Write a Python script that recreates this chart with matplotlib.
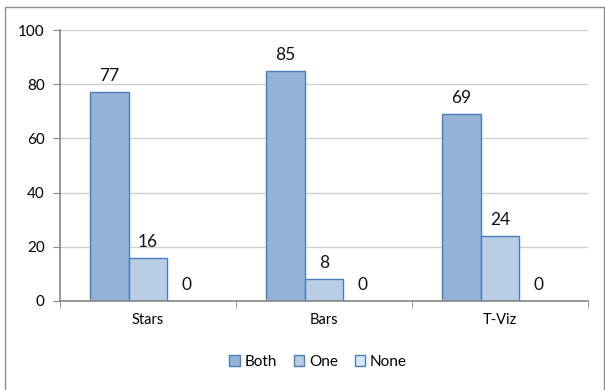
import matplotlib
matplotlib.use("Agg")
import matplotlib.pyplot as plt
import numpy as np
from matplotlib.patches import Rectangle

categories = ["Stars", "Bars", "T-Viz"]
series_names = ["Both", "One", "None"]
both = [77, 85, 69]
one = [16, 8, 24]
none = [0, 0, 0]
yticks = [0, 20, 40, 60, 80, 100]

plt.rcParams["font.family"] = ["Lato", "DejaVu Sans"]

fig = plt.figure(figsize=(6.05, 3.9), dpi=100)
ax = fig.add_axes([60 / 605, 1 - 301 / 390, 528 / 605, 271 / 390])

# outer chart frame
fig.patches.append(Rectangle((5 / 605, -0.01), 599 / 605, 1.01 - 7 / 390,
                             transform=fig.transFigure, fill=False,
                             edgecolor="#8c8c8c", linewidth=1.0))

x = np.arange(len(categories))
w = 0.22
faces = ["#95b3d7", "#b9cde5", "#dce6f2"]
edge = "#4a7ebb"
for i, (vals, name) in enumerate(zip([both, one, none], series_names)):
    pos = x + (i - 1) * w
    ax.bar(pos, vals, width=w, color=faces[i], edgecolor=edge, linewidth=1.0,
           label=name, zorder=2)
    for px, v in zip(pos, vals):
        ax.text(px, v + 3, str(v), ha="center", va="bottom", fontsize=12.5,
                color="#111111")

ax.set_xlim(-0.5, 2.5)
ax.set_ylim(0, 100)
ax.set_yticks(yticks)
ax.tick_params(axis="y", labelsize=11, length=5, color="#868686", pad=6)
ax.grid(axis="y", color="#d0d0d0", linewidth=1.0, zorder=0)
ax.set_axisbelow(True)

ax.set_xticks(x)
ax.set_xticklabels(categories, fontsize=10.5)
ax.tick_params(axis="x", length=0, pad=9)
ax.set_xticks([-0.5, 0.5, 1.5, 2.5], minor=True)
ax.tick_params(axis="x", which="minor", length=5, color="#868686")

for s in ["top", "right"]:
    ax.spines[s].set_visible(False)
for s in ["left", "bottom"]:
    ax.spines[s].set_color("#868686")
    ax.spines[s].set_zorder(5)
    ax.spines[s].set_linewidth(1.2)

fig.legend(loc="center", bbox_to_anchor=(318 / 605, 1 - 362 / 390), ncol=3,
           frameon=False, fontsize=11, handlelength=0.7, handleheight=0.7,
           handletextpad=0.3, columnspacing=1.1)

fig.savefig("out.png", dpi=100)
